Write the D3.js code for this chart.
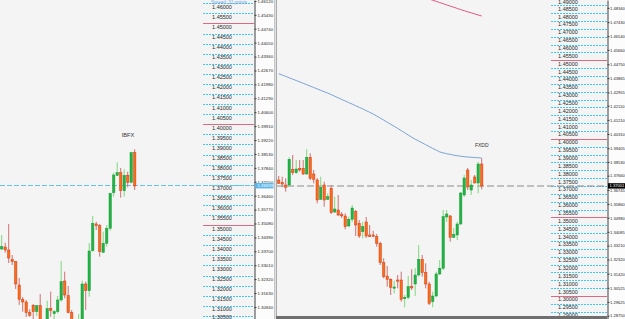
<!DOCTYPE html>
<html><head><meta charset="utf-8">
<script src="https://cdn.jsdelivr.net/npm/d3@7"></script>
<style>html,body{margin:0;padding:0;background:#f4f4f4;overflow:hidden}</style>
</head><body>
<svg id="c" width="625" height="319"></svg>
<script>
// ---------- IBFX (left window) ----------
const ibfxOpen  = [1.33815,1.33914,1.33765,1.33304,1.33185,1.32029,1.31320,1.31186,1.30655,1.31022,1.30705,1.31002,1.30243,1.30194,1.30873,1.30606,1.30705,1.31285,1.32227,1.31498,1.30655,1.30095,1.30045,1.30243,1.32079,1.31746,1.33730,1.35055,1.34970,1.33651,1.34097,1.34841,1.36607,1.37470,1.37599,1.36706,1.37470,1.37123,1.38591];
const ibfxHigh  = [1.34509,1.34127,1.35055,1.33517,1.33219,1.32376,1.31434,1.31285,1.30824,1.31087,1.31037,1.31583,1.30268,1.31250,1.31697,1.30789,1.31483,1.33219,1.32689,1.31979,1.30789,1.30268,1.30591,1.32242,1.32193,1.34112,1.35451,1.35169,1.35055,1.34673,1.35005,1.36607,1.37599,1.38115,1.37832,1.37768,1.37649,1.38641,1.38760];
const ibfxLow   = [1.33765,1.33631,1.33120,1.33021,1.31831,1.31037,1.30705,1.30442,1.30457,1.30343,1.30491,1.30144,1.29946,1.30095,1.30457,1.30293,1.30625,1.31201,1.31369,1.30625,1.30095,1.29995,1.29946,1.30144,1.30789,1.31449,1.33681,1.34757,1.33433,1.33616,1.33929,1.34722,1.36409,1.37435,1.36359,1.36409,1.36875,1.37073,1.36741];
const ibfxClose = [1.33929,1.33765,1.33368,1.33185,1.32079,1.31320,1.31186,1.30655,1.30526,1.30705,1.31002,1.30243,1.30095,1.30854,1.30754,1.30705,1.31285,1.32193,1.31533,1.30655,1.30194,1.30243,1.30293,1.32079,1.31746,1.33715,1.35089,1.34970,1.33681,1.34097,1.34841,1.36577,1.37485,1.37599,1.36706,1.37470,1.37123,1.38591,1.36939];
const ibfxLevels = [1.46,1.455,1.45,1.445,1.44,1.435,1.43,1.425,1.42,1.415,1.41,1.405,1.40,1.395,1.39,1.385,1.38,1.375,1.37,1.365,1.36,1.355,1.35,1.345,1.34,1.335,1.33,1.325,1.32,1.315,1.31,1.305];
const ibfxAxisTicks = [1.46120,1.45430,1.44740,1.44050,1.43360,1.42670,1.41980,1.41290,1.40600,1.39910,1.39220,1.38530,1.37840,1.37150,1.36460,1.35770,1.35080,1.34390,1.33700,1.33010,1.32320,1.31630,1.30940];

// ---------- FXDD (middle window) ----------
const fxddOpen  = [1.37383,1.37236,1.37065,1.37065,1.38064,1.37847,1.38127,1.38127,1.37765,1.38827,1.37765,1.37383,1.36155,1.37065,1.36155,1.36855,1.35346,1.35474,1.35175,1.35092,1.34455,1.34882,1.35365,1.34627,1.34093,1.34710,1.33883,1.33883,1.33774,1.33354,1.32120,1.31273,1.31063,1.30510,1.31019,1.31019,1.29829,1.29918,1.30592,1.30764,1.31337,1.32336,1.31509,1.30764,1.29638,1.30001,1.31401,1.31763,1.35028,1.35092,1.33736,1.33883,1.34583,1.36428,1.38019,1.36746,1.37574,1.37192,1.38401];
const fxddHigh  = [1.37637,1.37593,1.37491,1.38827,1.38974,1.38656,1.38656,1.38656,1.39337,1.39082,1.38019,1.37510,1.37593,1.37275,1.36536,1.37065,1.36320,1.36428,1.35346,1.35264,1.35047,1.35792,1.35474,1.34837,1.34729,1.35028,1.34519,1.34156,1.33946,1.33456,1.32400,1.31910,1.31127,1.30974,1.31337,1.31547,1.30064,1.31273,1.31700,1.31763,1.33246,1.32610,1.32082,1.30911,1.30274,1.31547,1.32292,1.35474,1.35474,1.35155,1.34328,1.34729,1.36619,1.37701,1.38147,1.37383,1.37701,1.38547,1.38764];
const fxddLow   = [1.37128,1.36918,1.36638,1.36956,1.37701,1.37765,1.37911,1.37701,1.37701,1.37383,1.37173,1.35900,1.36110,1.35684,1.36110,1.35219,1.35283,1.35092,1.34965,1.34245,1.34411,1.34710,1.33819,1.33692,1.33673,1.33692,1.33755,1.33736,1.33138,1.31973,1.31127,1.30592,1.30064,1.30172,1.30491,1.29638,1.29281,1.29791,1.30382,1.30001,1.31229,1.31229,1.30491,1.29428,1.29281,1.29918,1.31337,1.31655,1.34710,1.33456,1.33692,1.33564,1.34519,1.36301,1.36746,1.36428,1.37173,1.36536,1.36791];
const fxddClose = [1.37173,1.37128,1.36918,1.38700,1.37847,1.38083,1.38019,1.37765,1.38827,1.37491,1.37427,1.36110,1.36918,1.36110,1.36320,1.35302,1.35537,1.35155,1.35111,1.34411,1.34882,1.35601,1.34519,1.33819,1.34411,1.33819,1.33774,1.33838,1.33354,1.32120,1.31229,1.31063,1.30554,1.30573,1.30955,1.29791,1.29918,1.30592,1.30529,1.31337,1.32336,1.31483,1.30764,1.29536,1.30001,1.31401,1.31763,1.35047,1.35219,1.33736,1.33927,1.34583,1.36556,1.37510,1.36937,1.37065,1.37192,1.38401,1.37001];
const fxddMaBlue = [1.44148,1.44065,1.43976,1.43887,1.43798,1.43715,1.43626,1.43537,1.43448,1.43359,1.43270,1.43180,1.43091,1.43002,1.42913,1.42818,1.42716,1.42614,1.42512,1.42410,1.42309,1.42213,1.42111,1.42009,1.41908,1.41799,1.41691,1.41577,1.41456,1.41322,1.41195,1.41061,1.40928,1.40800,1.40667,1.40527,1.40387,1.40247,1.40107,1.39979,1.39865,1.39744,1.39629,1.39508,1.39394,1.39286,1.39171,1.39108,1.39057,1.39012,1.38967,1.38929,1.38897,1.38866,1.38847,1.38827,1.38815,1.38796,1.38783];
const fxddMaRedStart = 43;
const fxddMaRed = [1.48902,1.48825,1.48749,1.48673,1.48603,1.48526,1.48450,1.48380,1.48303,1.48227,1.48157,1.48087,1.48023,1.47953,1.47883,1.47820];
const fxddLevels = [1.49,1.485,1.48,1.475,1.47,1.465,1.46,1.455,1.45,1.445,1.44,1.435,1.43,1.425,1.42,1.415,1.41,1.405,1.40,1.395,1.39,1.385,1.38,1.375,1.37,1.365,1.36,1.355,1.35,1.345,1.34,1.335,1.33,1.325,1.32,1.315,1.31,1.305,1.30,1.295,1.29];
const fxddAxisTicks = [1.48340,1.47430,1.46540,1.45660,1.44750,1.43865,1.42955,1.42110,1.41210,1.40310,1.39405,1.38530,1.37660,1.36745,1.35860,1.34980,1.34085,1.33210,1.32320,1.31420,1.30525,1.29625,1.28750];

const spreadText = "Spread: 31 points";

// ---------- drawing ----------
const FONT = "'Liberation Sans', Arial, sans-serif";
const svg = d3.select('#c');
const defs = svg.append('defs');
defs.append('clipPath').attr('id','clipL').append('rect').attr('x',0).attr('y',0).attr('width',254).attr('height',319);
defs.append('clipPath').attr('id','clipM').append('rect').attr('x',277).attr('y',0).attr('width',330).attr('height',316);

// backgrounds
svg.append('rect').attr('x',0).attr('y',0).attr('width',254).attr('height',319).attr('fill','#f4f4f4');
svg.append('rect').attr('x',254).attr('y',0).attr('width',20).attr('height',319).attr('fill','#fcfcfc');
svg.append('rect').attr('x',274).attr('y',0).attr('width',3).attr('height',319).attr('fill','#e2e2e2');
svg.append('line').attr('x1',274.5).attr('x2',274.5).attr('y1',0).attr('y2',319).attr('stroke','#c4c4c4');
svg.append('line').attr('x1',276.5).attr('x2',276.5).attr('y1',0).attr('y2',319).attr('stroke','#a9a9a9');
svg.append('rect').attr('x',277).attr('y',0).attr('width',330).attr('height',319).attr('fill','#f4f4f4');
svg.append('rect').attr('x',607).attr('y',0).attr('width',18).attr('height',319).attr('fill','#fcfcfc');

const yL = d3.scaleLinear().domain([1.46165, 1.303426]).range([0, 319]);
const xL = d3.scaleLinear().domain([0, 38]).range([1.7, 134.7]);
const yM = d3.scaleLinear().domain([1.48838, 1.285368]).range([0, 319]);
const xM = d3.scaleLinear().domain([0, 58]).range([278.7, 481.7]);

const isRound = v => Math.abs(v*20 - Math.round(v*20)) < 1e-6;

function drawLevels(g, y, levels, x1, x2, cx) {
  levels.forEach(v => {
    const yy = Math.round(y(v)) + 0.5;
    const red = isRound(v);
    g.append('line').attr('x1',x1).attr('x2',x2).attr('y1',yy).attr('y2',yy)
      .attr('stroke', red ? '#dc6a82' : '#3fc8ef')
      .attr('stroke-width',1)
      .attr('stroke-dasharray', red ? null : '2,1');
    const ty = Math.min(318.6, Math.max(4.3, y(v)+5.4));
    g.append('text').attr('x',cx).attr('y',ty).attr('text-anchor','middle')
      .attr('font-family',FONT).attr('font-size',5.5).attr('fill','#2a2a2a')
      .text(v.toFixed(5));
  });
}

function drawCandles(g, x, y, O, Hh, L, C) {
  O.forEach((o,i) => {
    const c = C[i], bull = c >= o;
    const cx = x(i);
    g.append('line').attr('x1',cx).attr('x2',cx).attr('y1',y(Hh[i])).attr('y2',y(L[i]))
      .attr('stroke', bull ? '#7fd87f' : '#cd7272').attr('stroke-width',1);
    const top = y(Math.max(o,c)), bot = y(Math.min(o,c));
    g.append('rect').attr('x',cx-1.2).attr('width',2.4).attr('y',top).attr('height',Math.max(1.2,bot-top))
      .attr('fill', bull ? '#22b345' : '#fb6c17')
      .attr('stroke', bull ? '#179c37' : '#d63c1c').attr('stroke-width',0.5);
  });
}

// ----- left window -----
const gL = svg.append('g').attr('clip-path','url(#clipL)');
drawLevels(gL, yL, ibfxLevels, 203, 254, 222);
const lastL = ibfxClose[ibfxClose.length-1];
gL.append('line').attr('x1',0).attr('x2',254).attr('y1',yL(lastL)-0.5).attr('y2',yL(lastL)-0.5)
  .attr('stroke','#67c6ea').attr('stroke-width',1).attr('stroke-dasharray','5,2');
drawCandles(gL, xL, yL, ibfxOpen, ibfxHigh, ibfxLow, ibfxClose);
gL.append('text').attr('x',128).attr('y',137.3).attr('text-anchor','middle')
  .attr('font-family',FONT).attr('font-size',5.6).attr('fill','#333').text('IBFX');
gL.append('text').attr('x',229).attr('y',3.5).attr('text-anchor','middle')
  .attr('font-family',FONT).attr('font-size',4.6).attr('fill','#7aa5d6').text(spreadText);

// left price axis
const axL = d3.axisRight(yL).tickValues(ibfxAxisTicks).tickSize(2).tickSizeOuter(0).tickPadding(1)
  .tickFormat(d => d.toFixed(5));
const gAL = svg.append('g').attr('transform','translate(254.5,0)').call(axL);
gAL.attr('font-size',4.3).attr('font-family',FONT);
gAL.select('.domain').attr('stroke','#3c3c3c');
gAL.selectAll('.tick line').attr('stroke','#3c3c3c');
gAL.selectAll('.tick text').attr('fill','#1e1e1e');
const hlL = yL(lastL);
svg.append('rect').attr('x',255).attr('y',hlL-3).attr('width',18.5).attr('height',5.4).attr('fill','#5cb6ea');
svg.append('text').attr('x',257.5).attr('y',hlL+1.4).attr('font-family',FONT).attr('font-size',4.3)
  .attr('fill','#ffffff').text(lastL.toFixed(5));

// ----- middle window -----
const gM = svg.append('g').attr('clip-path','url(#clipM)');
drawLevels(gM, yM, fxddLevels, 551, 607, 568);
const lastM = fxddClose[fxddClose.length-1];
gM.append('line').attr('x1',277).attr('x2',607).attr('y1',yM(lastM)).attr('y2',yM(lastM))
  .attr('stroke','#8c8c8c').attr('stroke-width',1.2).attr('stroke-dasharray','7,3');
const lineM = d3.line().x((d,i)=>xM(i)).y(d=>yM(d));
gM.append('path').attr('d', lineM(fxddMaBlue)).attr('fill','none').attr('stroke','#7aa3d4').attr('stroke-width',1);
const lineR = d3.line().x((d,i)=>xM(i+fxddMaRedStart)).y(d=>yM(d));
gM.append('path').attr('d', lineR(fxddMaRed)).attr('fill','none').attr('stroke','#e0587c').attr('stroke-width',1);
drawCandles(gM, xM, yM, fxddOpen, fxddHigh, fxddLow, fxddClose);
gM.append('text').attr('x',481.7).attr('y',146.6).attr('text-anchor','middle')
  .attr('font-family',FONT).attr('font-size',5).attr('fill','#333').text('FXDD');
svg.append('rect').attr('x',276).attr('y',316).attr('width',331).attr('height',3).attr('fill','#6e6e6e');

// right price axis
const axR = d3.axisRight(yM).tickValues(fxddAxisTicks).tickSize(2).tickSizeOuter(0).tickPadding(0.5)
  .tickFormat(d => d.toFixed(5));
const gAR = svg.append('g').attr('transform','translate(607.5,0)').call(axR);
gAR.attr('font-size',4.1).attr('font-family',FONT);
gAR.select('.domain').attr('stroke','#3c3c3c');
gAR.selectAll('.tick line').attr('stroke','#3c3c3c');
gAR.selectAll('.tick text').attr('fill','#1e1e1e');
const hlR = yM(lastM);
svg.append('rect').attr('x',608).attr('y',hlR-2.8).attr('width',17).attr('height',5.4).attr('fill','#000');
svg.append('text').attr('x',609.5).attr('y',hlR+1.5).attr('font-family',FONT).attr('font-size',4.1)
  .attr('fill','#ffffff').text(lastM.toFixed(5));
</script>
</body></html>
